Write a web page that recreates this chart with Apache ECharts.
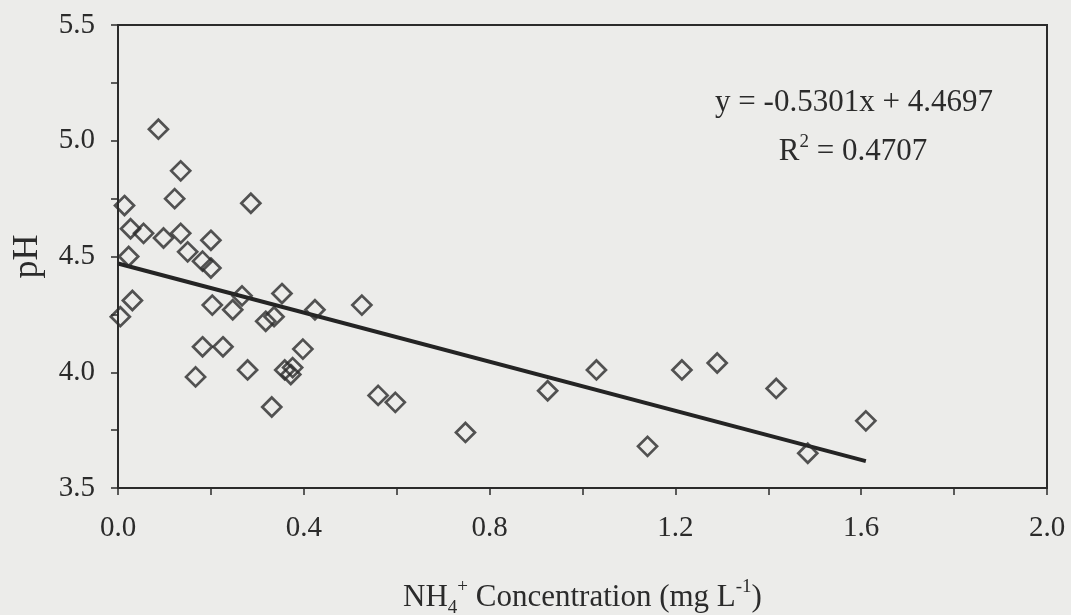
<!DOCTYPE html>
<html>
<head>
<meta charset="utf-8">
<script src="https://cdn.jsdelivr.net/npm/echarts@6/dist/echarts.min.js"></script>
<style>
  html, body { margin: 0; padding: 0; background: #ececea; }
  #chart { width: 1071px; height: 615px; }
</style>
</head>
<body>
<div id="chart"></div>
<script>
// NH4+ concentration (mg/L) and pH
const nh4 = [0.005, 0.014, 0.023, 0.027, 0.031, 0.055, 0.087, 0.098, 0.122, 0.135,
             0.135, 0.150, 0.167, 0.182, 0.182, 0.200, 0.200, 0.203, 0.226, 0.247,
             0.267, 0.279, 0.286, 0.318, 0.336, 0.331, 0.353, 0.359, 0.376, 0.372,
             0.398, 0.424, 0.525, 0.560, 0.597, 0.748, 0.925, 1.030, 1.140, 1.214,
             1.290, 1.417, 1.485, 1.610];
const ph = [4.24, 4.72, 4.50, 4.62, 4.31, 4.60, 5.05, 4.58, 4.75, 4.87,
            4.60, 4.52, 3.98, 4.48, 4.11, 4.57, 4.45, 4.29, 4.11, 4.27,
            4.33, 4.01, 4.73, 4.22, 4.24, 3.85, 4.34, 4.01, 4.02, 3.99,
            4.10, 4.27, 4.29, 3.90, 3.87, 3.74, 3.92, 4.01, 3.68, 4.01,
            4.04, 3.93, 3.65, 3.79];

// linear fit shown on the chart
const slope = -0.5301;
const intercept = 4.4697;
const r2 = 0.4707;

const xTicks = [0, 0.4, 0.8, 1.2, 1.6, 2.0];
const yTicks = [3.5, 4.0, 4.5, 5.0, 5.5];

const ink = '#2b2b2b';
const serif = '"Liberation Serif", "DejaVu Serif", serif';

const points = nh4.map((x, i) => [x, ph[i]]);
const xEnd = Math.max(...nh4);
const trend = [0, xEnd].map(x => [x, intercept + slope * x]);

const isTick = (v, list) => list.some(t => Math.abs(t - v) < 1e-6);

const chart = echarts.init(document.getElementById('chart'));
chart.setOption({
  backgroundColor: '#ececea',
  animation: false,
  grid: {
    left: 118, right: 24, top: 25, bottom: 127,
    outerBoundsMode: 'none',
    show: true, borderColor: ink, borderWidth: 2, backgroundColor: 'transparent'
  },
  xAxis: {
    type: 'value', min: 0, max: 2.0, interval: 0.2,
    name: '{a|NH}{sub|4}{sup|+}{a| Concentration (mg L}{sup|-1}{a|)}',
    nameLocation: 'middle', nameGap: 90,
    nameTextStyle: {
      color: ink, fontFamily: serif,
      rich: {
        a: { fontSize: 31, fontFamily: serif, color: ink, lineHeight: 40 },
        sub: { fontSize: 19, fontFamily: serif, color: ink, verticalAlign: 'bottom', lineHeight: 40 },
        sup: { fontSize: 19, fontFamily: serif, color: ink, verticalAlign: 'top', lineHeight: 40 }
      }
    },
    axisLine: { show: true, lineStyle: { color: ink, width: 2 } },
    axisTick: { show: true, length: 7, lineStyle: { color: ink, width: 1.5 } },
    axisLabel: {
      margin: 26, fontSize: 29, fontFamily: serif, color: ink,
      formatter: v => isTick(v, xTicks) ? v.toFixed(1) : ''
    },
    splitLine: { show: false }
  },
  yAxis: {
    type: 'value', min: 3.5, max: 5.5, interval: 0.25,
    name: 'pH', nameLocation: 'middle', nameGap: 72, nameRotate: 90,
    nameTextStyle: { fontSize: 36, fontFamily: serif, color: ink },
    axisLine: { show: true, lineStyle: { color: ink, width: 2 } },
    axisTick: { show: true, length: 7, lineStyle: { color: ink, width: 1.5 } },
    axisLabel: {
      margin: 23, fontSize: 29, fontFamily: serif, color: ink,
      formatter: v => isTick(v, yTicks) ? v.toFixed(1) : ''
    },
    splitLine: { show: false }
  },
  graphic: [{
    type: 'text', x: 854, y: 103,
    style: {
      text: 'y = ' + slope.toFixed(4) + 'x + ' + intercept.toFixed(4),
      font: '31px ' + serif, fill: ink, align: 'center', verticalAlign: 'middle'
    }
  }, {
    type: 'text', x: 853, y: 152,
    style: {
      text: '{a|R}{sup|2}{a| = ' + r2.toFixed(4) + '}',
      align: 'center', verticalAlign: 'middle',
      rich: {
        a: { font: '31px ' + serif, fill: ink, lineHeight: 38 },
        sup: { font: '19px ' + serif, fill: ink, verticalAlign: 'top', lineHeight: 38 }
      }
    }
  }],
  series: [{
    type: 'line',
    data: trend,
    symbol: 'none',
    lineStyle: { color: '#242424', width: 4 },
    z: 2
  }, {
    type: 'scatter',
    data: points,
    symbol: 'diamond',
    symbolSize: 19,
    itemStyle: { color: 'transparent', borderColor: ink, borderWidth: 2.7 },
    z: 3
  }]
});
</script>
</body>
</html>
